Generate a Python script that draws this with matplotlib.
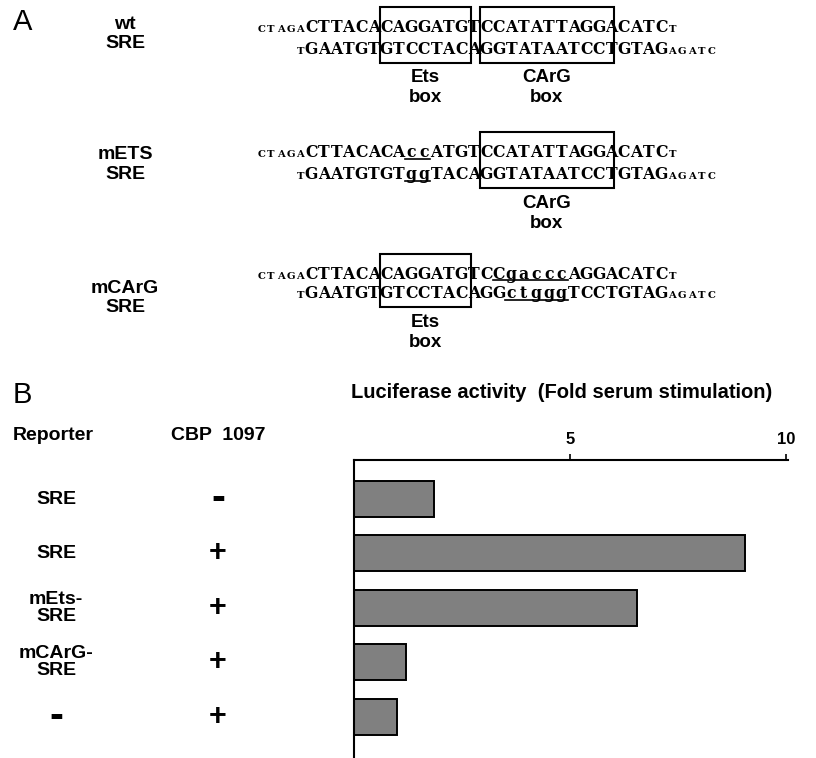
import numpy as np
import matplotlib
matplotlib.use('Agg')
import matplotlib.pyplot as plt
from matplotlib.patches import Rectangle
from matplotlib.transforms import blended_transform_factory

# ---- panel A: SRE oligos (lowercase = mutated bases) ----
construct_names = ['wt\nSRE', 'mETS\nSRE', 'mCArG\nSRE']
top_strands = ['CTTACACAGGATGTCCATATTAGGACATC',
               'CTTACACAccATGTCCATATTAGGACATC',
               'CTTACACAGGATGTCCgacccAGGACATC']
bottom_strands = ['GAATGTGTCCTACAGGTATAATCCTGTAG',
                  'GAATGTGTggTACAGGTATAATCCTGTAG',
                  'GAATGTGTCCTACAGGctgggTCCTGTAG']
top_prefix, top_suffix = 'CTAGA', 'T'
bottom_prefix, bottom_suffix = 'T', 'AGATC'
# underlined stretches, in base positions
top_underline = [None, (8, 10), (15, 21)]
bottom_underline = [None, (8, 10), (16, 21)]
# boxed elements: (label, from base, to base)
boxes = [[('Ets\nbox', 6, 13.3), ('CArG\nbox', 14, 24.7)],
         [('CArG\nbox', 14, 24.7)],
         [('Ets\nbox', 6, 13.3)]]

# ---- panel B: luciferase assay ----
reporters = ['SRE', 'SRE', 'mEts-\nSRE', 'mCArG-\nSRE', '-']
cbp1097 = ['-', '+', '+', '+', '+']
fold = [1.84, 9.04, 6.55, 1.19, 0.98]

W, H = 816, 758
sans = 'Liberation Sans'
serif = 'DejaVu Serif'

fig = plt.figure(figsize=(W / 100, H / 100), dpi=100)
ax0 = fig.add_axes([0, 0, 1, 1])
ax0.set_xlim(0, W)
ax0.set_ylim(H, 0)
ax0.axis('off')

x0 = 305          # first big base
pitch = 12.5      # big base width
small = 9.7       # small caps width
strand_y = [(26.7, 48), (151.7, 173.7), (273.3, 292.8)]
name_y = [34, 164.5, 298]


def strand(y, seq, prefix, suffix, uline):
    base = y + 5.5
    for i, ch in enumerate(prefix[::-1]):
        ax0.text(x0 - (i + 0.5) * small, base, ch, family=serif, weight='bold',
                 fontsize=7.2, ha='center', va='baseline')
    for i, ch in enumerate(seq):
        ax0.text(x0 + (i + 0.5) * pitch, base, ch, family=serif, weight='bold',
                 fontsize=11.3, ha='center', va='baseline')
    end = x0 + len(seq) * pitch
    for i, ch in enumerate(suffix):
        ax0.text(end + (i + 0.5) * small, base, ch, family=serif, weight='bold',
                 fontsize=7.2, ha='center', va='baseline')
    if uline:
        ax0.plot([x0 + uline[0] * pitch, x0 + uline[1] * pitch], [base + 1.5] * 2,
                 color='black', lw=1.2)


for k in range(3):
    yt, yb = strand_y[k]
    ax0.text(125, name_y[k], construct_names[k], family=sans, weight='bold',
             fontsize=14, ha='center', va='center', linespacing=1.22)
    strand(yt, top_strands[k], top_prefix, top_suffix, top_underline[k])
    strand(yb, bottom_strands[k], bottom_prefix, bottom_suffix, bottom_underline[k])
    for lab, b0, b1 in boxes[k]:
        top = yt - 19.5
        bot = yb + 14.5
        ax0.add_patch(Rectangle((x0 + b0 * pitch, top), (b1 - b0) * pitch, bot - top,
                                fill=False, ec='black', lw=1.5))
        ax0.text(x0 + (b0 + b1) / 2 * pitch, bot + 25, lab, family=sans, weight='bold',
                 fontsize=13.5, ha='center', va='center', linespacing=1.2)

ax0.text(13, 22, 'A', family=sans, fontsize=21, ha='left', va='center')
ax0.text(13, 395, 'B', family=sans, fontsize=21, ha='left', va='center')
ax0.text(13, 436, 'Reporter', family=sans, weight='bold', fontsize=14,
         ha='left', va='center')
ax0.text(218, 435, 'CBP  1097', family=sans, weight='bold', fontsize=14,
         ha='center', va='center')
ax0.text(351, 392, 'Luciferase activity  (Fold serum stimulation)', family=sans,
         weight='bold', fontsize=14.5, ha='left', va='center')

# bar chart
ax = fig.add_axes([354.3 / W, 0, (788 - 354.3) / W, (H - 460) / H])
ax.set_facecolor('none')
ypos = np.arange(len(fold))
ax.barh(ypos, fold, height=0.66, color='#808080', edgecolor='black', linewidth=1.4)
ax.set_xlim(0, 10.04)
ax.set_ylim(4.76, -0.717)
for s in ['right', 'bottom']:
    ax.spines[s].set_visible(False)
for s in ['top', 'left']:
    ax.spines[s].set_linewidth(1.5)
ax.xaxis.tick_top()
ax.set_xticks([5, 10])
ax.set_yticks([])
ax.tick_params(axis='x', direction='out', length=4, width=1.2, pad=5)
for t in ax.get_xticklabels():
    t.set_fontfamily(sans)
    t.set_fontweight('bold')
    t.set_fontsize(12)

trans = blended_transform_factory(ax0.transData, ax.transData)
for i in range(len(fold)):
    rsize = 30 if reporters[i] == '-' else 14
    ax0.text(56, i, reporters[i], transform=trans, family=sans, weight='bold',
             fontsize=rsize, ha='center', va='center', linespacing=1.0)
    csize = 30 if cbp1097[i] == '-' else 22
    ax0.text(218, i, cbp1097[i], transform=trans, family=sans, weight='bold',
             fontsize=csize, ha='center', va='center')

fig.savefig('out.png', dpi=100)
